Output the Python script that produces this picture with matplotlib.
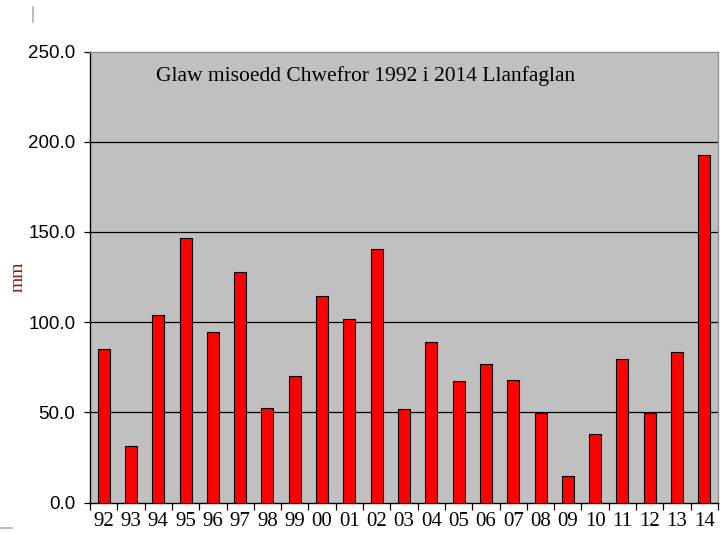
import numpy as np
import matplotlib
matplotlib.use('Agg')
import matplotlib.pyplot as plt
from matplotlib.ticker import FixedLocator, NullFormatter

# February rainfall, Llanfaglan (mm)
years = ['92', '93', '94', '95', '96', '97', '98', '99', '00', '01', '02', '03',
         '04', '05', '06', '07', '08', '09', '10', '11', '12', '13', '14']
rain_mm = [85.2, 31.2, 103.8, 146.5, 94.4, 127.8, 52.3, 70.0, 114.3, 101.8, 140.6, 51.7,
           89.2, 67.4, 76.7, 68.0, 49.5, 14.6, 37.9, 79.4, 49.5, 83.3, 192.6]
yticks = [0, 50, 100, 150, 200, 250]

title_text = 'Glaw misoedd Chwefror 1992 i 2014 Llanfaglan'

fig = plt.figure(figsize=(7.26, 5.33), dpi=100)
ax = fig.add_axes([90 / 726, 1 - 502.7 / 533, 628 / 726, 451.2 / 533])
ax.set_facecolor('#c0c0c0')

x = np.arange(len(years)) + 0.5
ax.bar(x, rain_mm, width=0.44, color='#ff0000', edgecolor='black', linewidth=0.8, zorder=3)

ax.set_xlim(0, len(years))
ax.set_ylim(0, 250)

# horizontal gridlines
for v in yticks[1:-1]:
    ax.axhline(v, color='black', linewidth=0.9, zorder=1)

ax.set_yticks(yticks)
ax.set_yticklabels(['%.1f' % v for v in yticks], fontsize=13.5, family='Liberation Sans')
ax.tick_params(axis='y', direction='out', length=4, width=0.9, pad=6.5, color='black')

# ticks between categories, labels under each bar
ax.xaxis.set_major_locator(FixedLocator(np.arange(len(years) + 1)))
ax.xaxis.set_major_formatter(NullFormatter())
ax.xaxis.set_minor_locator(FixedLocator(x))
ax.set_xticklabels(years, minor=True, fontsize=15, family='Liberation Serif')
ax.tick_params(axis='x', which='major', direction='out', length=5, width=0.9, color='black')
ax.tick_params(axis='x', which='minor', length=0, pad=7)

for side in ['left', 'bottom']:
    ax.spines[side].set_color('black')
    ax.spines[side].set_linewidth(1.0)
for side in ['top', 'right']:
    ax.spines[side].set_color('#909090')
    ax.spines[side].set_linewidth(1.0)

# title inside the plot area, in figure pixels
fig.text(366 / 726, 1 - 76 / 533, title_text, fontsize=15.5, family='Liberation Serif',
         ha='center', va='center', color='black')

fig.text(18 / 726, 1 - 277 / 533, 'mm', rotation=90, fontsize=14, family='Liberation Serif',
         color='#8b1a1a', ha='center', va='center')

# small grey marks at the edges
fig.add_artist(plt.Line2D([33 / 726, 33 / 726], [1 - 7 / 533, 1 - 22 / 533], color='#b0b0b0', linewidth=1.2))
fig.add_artist(plt.Line2D([0, 12 / 726], [1 - 528 / 533, 1 - 528 / 533], color='#b0b0b0', linewidth=1.2))

fig.savefig('out.png', dpi=100)
